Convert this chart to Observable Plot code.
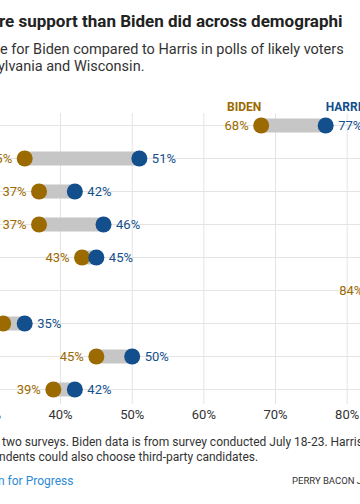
<!DOCTYPE html>
<html><head><meta charset="utf-8">
<script src="https://cdn.jsdelivr.net/npm/d3@7"></script>
<script src="https://cdn.jsdelivr.net/npm/@observablehq/plot@0.6"></script>
<style>
html,body{margin:0;padding:0;background:#fff;}
body{width:360px;height:504px;overflow:hidden;position:relative;font-family:Roboto,"Liberation Sans",sans-serif;color:#222;}
.t{position:absolute;white-space:nowrap;line-height:1;}
#chart{position:absolute;left:-400px;top:80px;width:910px;}
#chart svg{max-width:none !important;}
</style></head><body>
<div class="t" style="left:-1px;top:13px;font-size:17px;font-weight:700;color:#222">re support than Biden did across demographi</div>
<div class="t" style="left:0px;top:43px;font-size:14.5px;color:#333">e for Biden compared to Harris in polls of likely voters</div>
<div class="t" style="left:-2px;top:60px;font-size:14.5px;color:#333">ylvania and Wisconsin.</div>
<div id="chart"></div>
<div class="t" style="left:2px;top:436px;font-size:12px;color:#333">two surveys. Biden data is from survey conducted July 18-23. Harris</div>
<div class="t" style="left:-1px;top:451px;font-size:12px;color:#333">ndents could also choose third-party candidates.</div>
<div class="t" style="left:-2px;top:475px;font-size:12px;color:#2d8ad4">n for Progress</div>
<div class="t" style="left:292px;top:476px;font-size:9.5px;color:#333">PERRY BACON JR./THE WASHINGTON POST</div>
<script>
const groups = ["Black voters", "Voters under 30", "Hispanic voters", "Independents", "Women", "Democrats", "Men", "Voters 65 and older", "White voters"];
const bidenShare = [68, 35, 37, 37, 43, 84, 32, 45, 39];
const harrisShare = [77, 51, 42, 46, 45, 91, 35, 50, 42];
const xTicks = [20, 30, 40, 50, 60, 70, 80, 90, 100];
const legendLabels = ["BIDEN", "HARRIS"];

const gold = "#9b6a00";
const blue = "#124f8c";
const rows = groups.map((g, i) => ({group: g, biden: bidenShare[i], harris: harrisShare[i]}));
const first = rows.slice(0, 1);

const chart = Plot.plot({
  width: 910, height: 354,
  marginLeft: 316.7, marginRight: 20, marginTop: 33, marginBottom: 30,
  x: {domain: [20, 100], label: null},
  y: {type: "point", domain: groups, range: [41.7, 312.3], padding: 0, label: null},
  style: {fontFamily: "Roboto, 'Liberation Sans', sans-serif", fontSize: "13px", color: "#333", background: "transparent"},
  marks: [
    Plot.gridX(xTicks, {stroke: "#e4e4e4", strokeOpacity: 1}),
    Plot.gridY(groups, {stroke: "#e4e4e4", strokeOpacity: 1}),
    Plot.axisX(xTicks, {tickSize: 0, tickPadding: 5, tickFormat: d => d + "%", fontSize: 13, fill: "#333", label: null}),
    Plot.axisY({tickSize: 0, tickPadding: 10, fontSize: 13, label: null}),
    Plot.ruleY(rows, {y: "group", x1: "biden", x2: "harris", stroke: "#c6c6c6", strokeWidth: 14}),
    Plot.dot(rows, {x: "biden", y: "group", r: 8, fill: gold}),
    Plot.dot(rows, {x: "harris", y: "group", r: 8, fill: blue}),
    Plot.text(rows, {x: "biden", y: "group", text: d => d.biden + "%", dx: -12.5, textAnchor: "end", fill: gold, fontSize: 13}),
    Plot.text(rows, {x: "harris", y: "group", text: d => d.harris + "%", dx: 12.5, textAnchor: "start", fill: blue, fontSize: 13}),
    Plot.ruleX(first, {x: "biden", y: "group", insetTop: -13.5, insetBottom: 8, stroke: "#999"}),
    Plot.ruleX(first, {x: "harris", y: "group", insetTop: -13.5, insetBottom: 8, stroke: "#999"}),
    Plot.text(first, {x: "biden", y: "group", text: () => legendLabels[0], textAnchor: "end", lineAnchor: "bottom", dy: -15, fill: gold, fontWeight: 700, fontSize: 12}),
    Plot.text(first, {x: "harris", y: "group", text: () => legendLabels[1], textAnchor: "start", lineAnchor: "bottom", dy: -15, fill: blue, fontWeight: 700, fontSize: 12})
  ]
});
document.getElementById("chart").appendChild(chart);
</script>
</body></html>
